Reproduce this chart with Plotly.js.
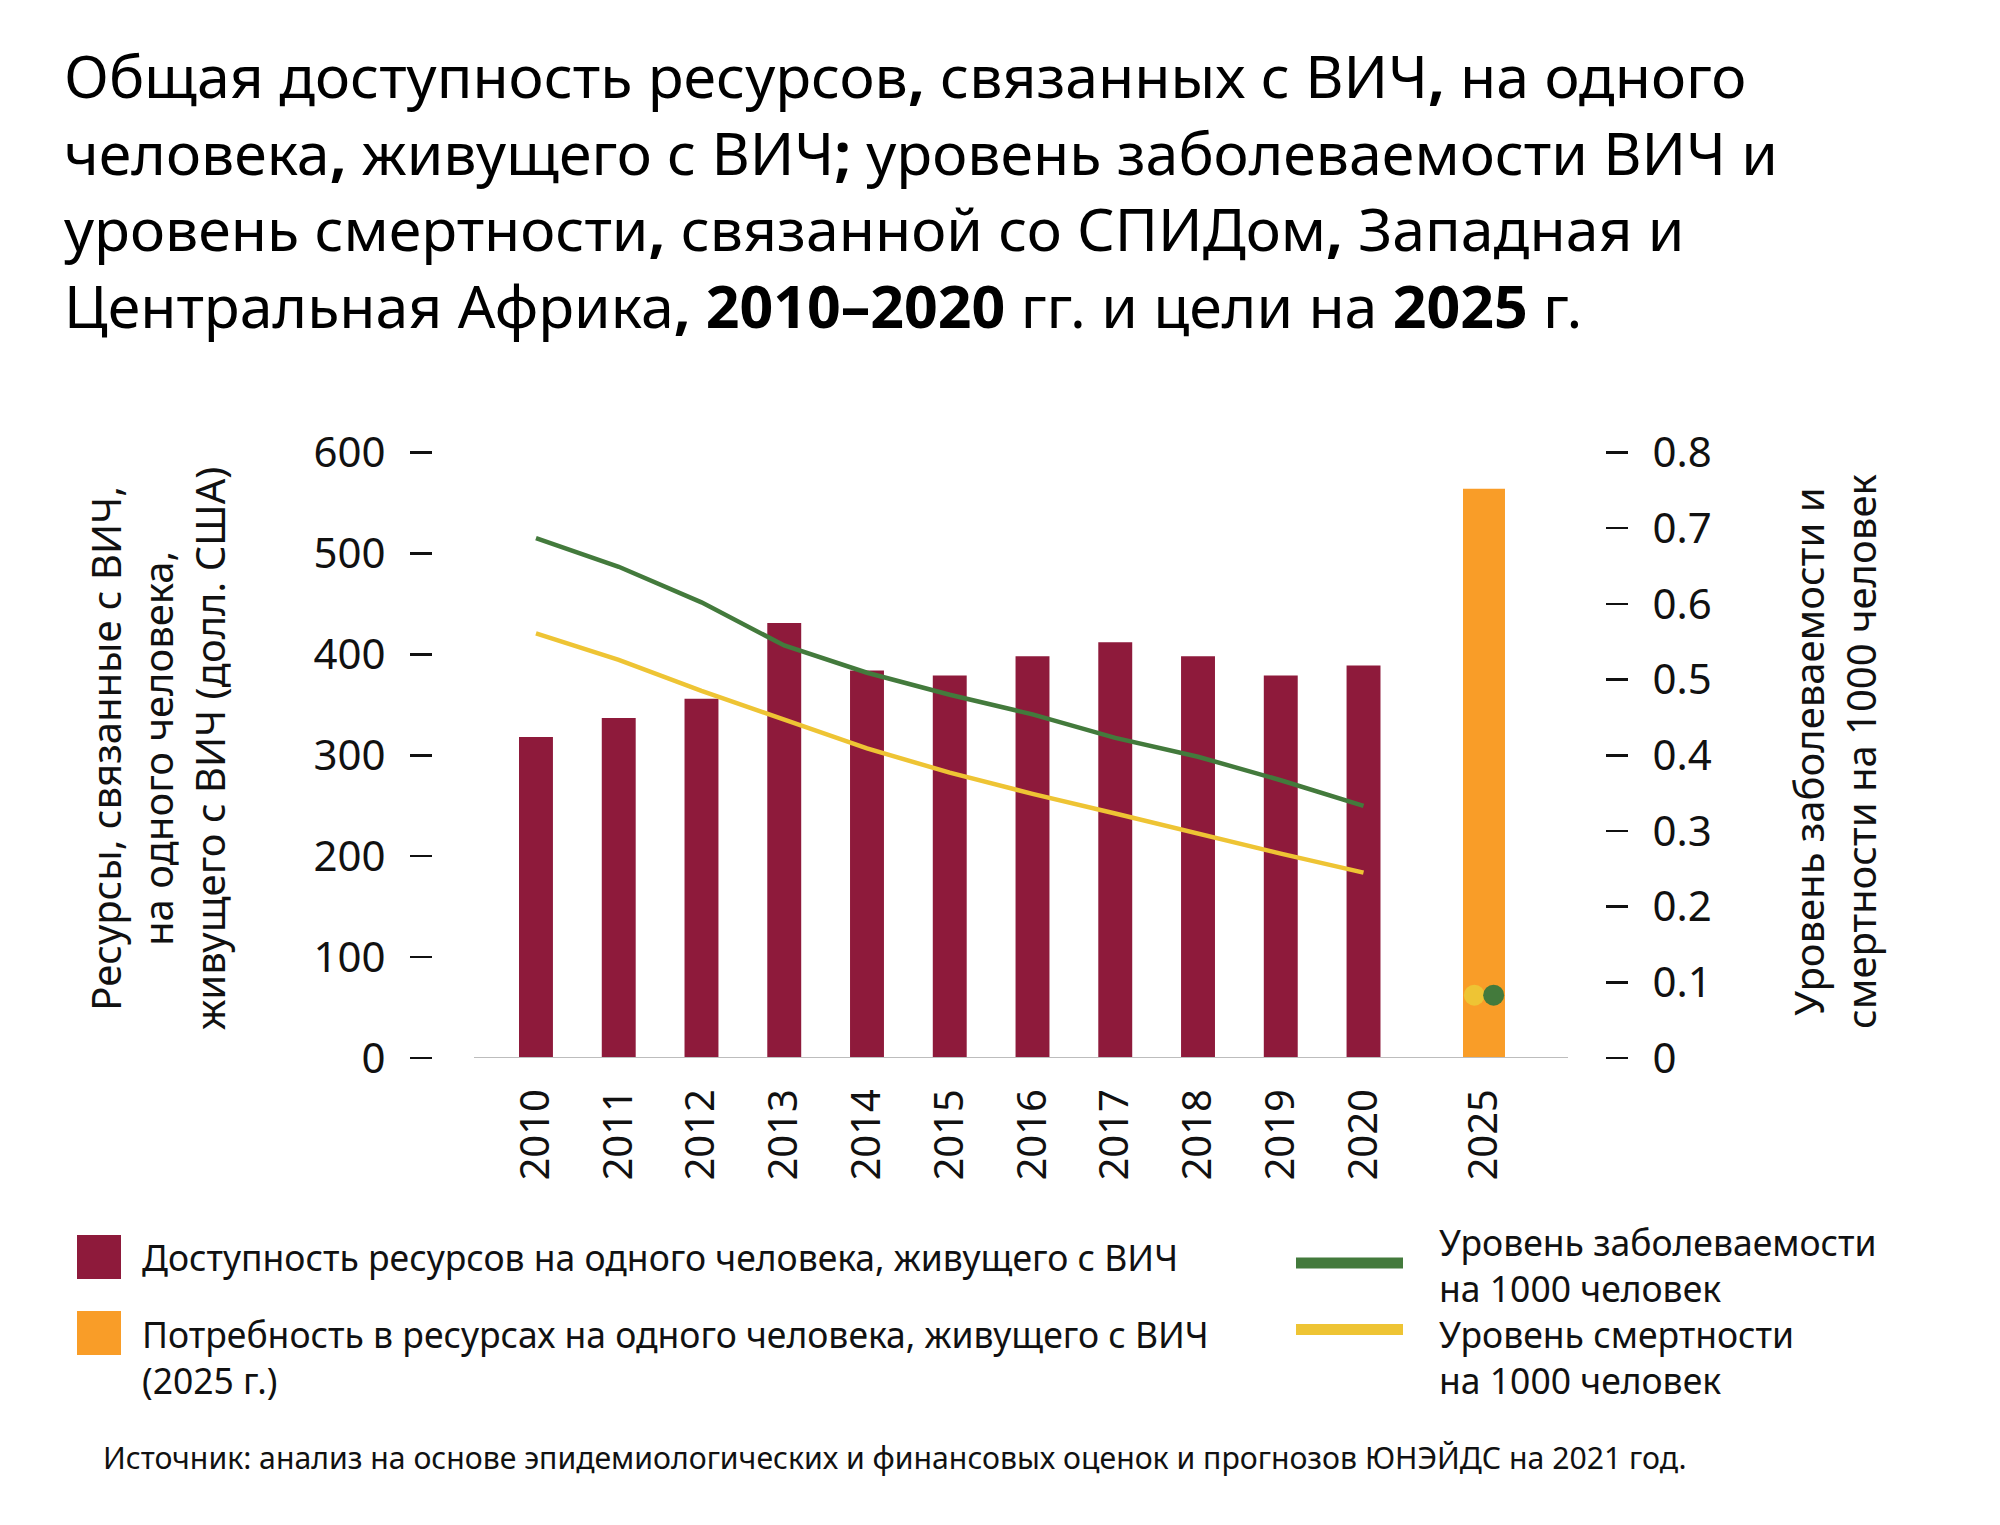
<!DOCTYPE html>
<html>
<head>
<meta charset="utf-8">
<script src="https://cdn.plot.ly/plotly-3.0.1.min.js"></script>
<style>html,body{margin:0;padding:0;background:#fff;}#chart{width:2000px;height:1525px;}</style>
</head>
<body>
<div id="chart"></div>
<script>
// ---- data ----
const years = ['2010','2011','2012','2013','2014','2015','2016','2017','2018','2019','2020'];
const resources = [318, 337, 356, 431, 384, 379, 398, 412, 398, 379, 389];
const incidence = [0.687, 0.649, 0.602, 0.545, 0.509, 0.480, 0.454, 0.423, 0.398, 0.367, 0.333];
const mortality = [0.561, 0.526, 0.485, 0.447, 0.409, 0.377, 0.349, 0.323, 0.296, 0.270, 0.245];
const targetYear = ['2025'];
const need2025 = [564];
const incidenceTarget = [0.083];
const mortalityTarget = [0.083];

const leftTicks = [0, 100, 200, 300, 400, 500, 600];
const rightTicks = [0, 0.1, 0.2, 0.3, 0.4, 0.5, 0.6, 0.7, 0.8];

const labels = {
  title: 'Общая доступность ресурсов<b>,</b> связанных с ВИЧ<b>,</b> на одного<br>' +
         'человека<b>,</b> живущего с ВИЧ<b>;</b> уровень заболеваемости ВИЧ и<br>' +
         'уровень смертности<b>,</b> связанной со СПИДом<b>,</b> Западная и<br>' +
         'Центральная Африка<b>, 2010–2020</b> гг. и цели на <b>2025</b> г.',
  yLeft: 'Ресурсы, связанные с ВИЧ,<br>на одного человека,<br>живущего с ВИЧ (долл. США)',
  yRight: 'Уровень заболеваемости и<br>смертности на 1000 человек',
  availability: 'Доступность ресурсов на одного человека, живущего с ВИЧ',
  need: 'Потребность в ресурсах на одного человека, живущего с ВИЧ<br>(2025 г.)',
  incidence: 'Уровень заболеваемости<br>на 1000 человек',
  mortality: 'Уровень смертности<br>на 1000 человек',
  source: 'Источник: анализ на основе эпидемиологических и финансовых оценок и прогнозов ЮНЭЙДС на 2021 год.'
};

// ---- style ----
const C_BAR = '#8E1A3B';
const C_NEED = '#F99D28';
const C_INC = '#437A3C';
const C_MORT = '#EEC434';
const FONT = 'Noto Sans, Open Sans, sans-serif';
const W = 2000, H = 1525;
const px = v => v / W;
const py = v => 1 - v / H;

const traces = [
  {type:'bar', name:labels.availability, x:years, y:resources, xaxis:'x', yaxis:'y',
   marker:{color:C_BAR}, showlegend:false},
  {type:'bar', name:labels.need, x:targetYear, y:need2025, xaxis:'x2', yaxis:'y',
   marker:{color:C_NEED}, showlegend:false},
  {type:'scatter', mode:'lines', name:'Уровень заболеваемости', x:years, y:incidence, xaxis:'x', yaxis:'y2',
   line:{color:C_INC, width:4.5}, offsetgroup:'lines', showlegend:false},
  {type:'scatter', mode:'lines', name:'Уровень смертности', x:years, y:mortality, xaxis:'x', yaxis:'y2',
   line:{color:C_MORT, width:4.5}, offsetgroup:'lines', showlegend:false},
  {type:'scatter', mode:'markers', name:'Цель: смертность', x:targetYear, y:mortalityTarget, xaxis:'x3', yaxis:'y2',
   marker:{color:C_MORT, size:21}, offsetgroup:'m', showlegend:false},
  {type:'scatter', mode:'markers', name:'Цель: заболеваемость', x:targetYear, y:incidenceTarget, xaxis:'x3', yaxis:'y2',
   marker:{color:C_INC, size:21}, offsetgroup:'i', showlegend:false}
];

const yDom = [py(1058), py(452.5)];
const tickFont = {family:FONT, size:42, color:'#111'};
const xTickFont = {family:FONT, size:40, color:'#111'};

const layout = {
  width:W, height:H,
  margin:{l:0, r:0, t:0, b:0},
  paper_bgcolor:'#fff', plot_bgcolor:'rgba(0,0,0,0)',
  showlegend:false,
  barmode:'group', bargap:0.59,
  scattermode:'group', scattergap:0.623,
  font:{family:FONT, color:'#111'},
  title:{text:labels.title, x:px(64), xanchor:'left', xref:'paper', y:py(98), yanchor:'top', yref:'paper',
         font:{family:FONT, size:59, color:'#000'}},
  xaxis:{domain:[px(494.6), px(1404.9)], anchor:'y', type:'category', showgrid:false, zeroline:false,
         showline:false, ticks:'', tickangle:-90, tickfont:xTickFont, ticklabelstandoff:22, fixedrange:true},
  xaxis2:{domain:[px(1432.8), px(1535.2)], anchor:'y', type:'category', showgrid:false, zeroline:false,
         showline:false, ticks:'', tickangle:-90, tickfont:xTickFont, ticklabelstandoff:22, fixedrange:true},
  xaxis3:{overlaying:'x2', anchor:'y', type:'category', showgrid:false, zeroline:false,
         showline:false, ticks:'', showticklabels:false, fixedrange:true},
  yaxis:{domain:yDom, range:[0,600], anchor:'free', position:px(432), side:'left',
         tickvals:leftTicks, ticks:'outside', ticklen:22, tickwidth:2.5, tickcolor:'#111',
         showgrid:false, zeroline:false, showline:false, tickfont:tickFont, ticklabelstandoff:16, fixedrange:true},
  yaxis2:{domain:yDom, range:[0,0.8], anchor:'free', position:px(1605), side:'right', overlaying:'y',
         tickvals:rightTicks, ticks:'outside', ticklen:22, tickwidth:2.5, tickcolor:'#111',
         showgrid:false, zeroline:false, showline:false, tickfont:tickFont, ticklabelstandoff:16, fixedrange:true},
  shapes:[
    {type:'line', xref:'paper', yref:'y', x0:px(474), x1:px(1568), y0:0, y1:0, line:{color:'#BDBDBD', width:2}},
    {type:'rect', xref:'paper', yref:'paper', x0:px(77), x1:px(121), y0:py(1279), y1:py(1235), fillcolor:C_BAR, line:{width:0}},
    {type:'rect', xref:'paper', yref:'paper', x0:px(77), x1:px(121), y0:py(1355), y1:py(1311), fillcolor:C_NEED, line:{width:0}},
    {type:'line', xref:'paper', yref:'paper', x0:px(1296), x1:px(1403), y0:py(1263), y1:py(1263), line:{color:C_INC, width:11}},
    {type:'line', xref:'paper', yref:'paper', x0:px(1296), x1:px(1403), y0:py(1329.5), y1:py(1329.5), line:{color:C_MORT, width:11}}
  ],
  annotations:[
    {text:labels.yLeft, xref:'paper', yref:'paper', x:px(157), y:py(749), xanchor:'center', yanchor:'middle',
     textangle:-90, showarrow:false, align:'center', font:{family:FONT, size:40, color:'#111'}},
    {text:labels.yRight, xref:'paper', yref:'paper', x:px(1834), y:py(752), xanchor:'center', yanchor:'middle',
     textangle:-90, showarrow:false, align:'center', font:{family:FONT, size:40, color:'#111'}},
    {text:labels.availability, xref:'paper', yref:'paper', x:px(140), y:py(1257), xanchor:'left', yanchor:'middle',
     showarrow:false, align:'left', font:{family:FONT, size:35.5, color:'#111'}},
    {text:labels.need, xref:'paper', yref:'paper', x:px(140), y:py(1357), xanchor:'left', yanchor:'middle',
     showarrow:false, align:'left', font:{family:FONT, size:35.5, color:'#111'}},
    {text:labels.incidence, xref:'paper', yref:'paper', x:px(1437), y:py(1265), xanchor:'left', yanchor:'middle',
     showarrow:false, align:'left', font:{family:FONT, size:35.5, color:'#111'}},
    {text:labels.mortality, xref:'paper', yref:'paper', x:px(1437), y:py(1357), xanchor:'left', yanchor:'middle',
     showarrow:false, align:'left', font:{family:FONT, size:35.5, color:'#111'}},
    {text:labels.source, xref:'paper', yref:'paper', x:px(101), y:py(1457), xanchor:'left', yanchor:'middle',
     showarrow:false, align:'left', font:{family:FONT, size:30.2, color:'#111'}}
  ]
};

Plotly.newPlot('chart', traces, layout, {displayModeBar:false, staticPlot:true});
</script>
</body>
</html>
